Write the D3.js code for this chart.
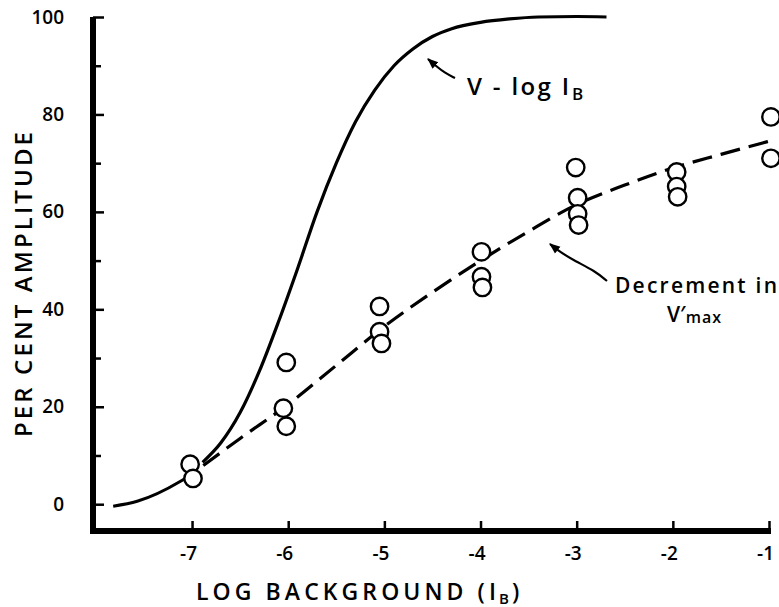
<!DOCTYPE html>
<html><head><meta charset="utf-8">
<script src="https://cdn.jsdelivr.net/npm/d3@7"></script>
<style>body{margin:0;background:#fff} text{font-family:"Open Sans",sans-serif;font-weight:600;fill:#000}</style>
</head><body>
<svg id="c" width="779" height="607"></svg>
<script>
const xTicks = [-7,-6,-5,-4,-3,-2,-1];
const xTickLabels = ["-7","-6","-5","-4","-3","-2","-1"];
const yMajor = [0,20,40,60,80,100];
const yMinor = [10,30,50,70,90];
const obsX = [-7.02,-6.99,-6.02,-6.05,-6.02,-5.05,-5.05,-5.03,-3.99,-3.99,-3.98,-3.01,-2.99,-2.99,-2.98,-1.96,-1.96,-1.95,-0.98,-0.98];
const obsY = [8.2,5.3,29.1,19.7,16.0,40.6,35.4,33.0,51.8,46.7,44.5,69.1,62.9,59.6,57.3,68.2,65.2,63.1,79.5,71.0];
const vCurveX = [-6.89,-6.7,-6.5,-6.3,-6.1,-5.9,-5.7,-5.5,-5.3,-5.1,-4.9,-4.7,-4.5,-4.3,-4.0,-3.7,-3.4,-3.0,-2.69];
const vCurveY = [8.6,12.6,18.8,27.3,37.5,48.5,60,70,78.5,85,90,93.5,96,97.6,98.9,99.6,100,100.1,100];
const decX = [-7.82,-7.57,-7.12,-7.0,-6.5,-6.0,-5.5,-5.0,-4.5,-4.0,-3.5,-3.0,-2.5,-2.0,-1.5,-1.0];
const decY = [-0.4,0.6,4.7,6.2,13.5,20.5,28.5,36.5,43.5,50,56,61.5,65.5,69,71.8,74.5];

const svg = d3.select("#c");
const x = d3.scaleLinear().domain([-8.03,-1]).range([93,769]);
const y = d3.scaleLinear().domain([-5.5,100]).range([531,17]);

// axes lines
svg.append("line").attr("x1",x(-8.03)).attr("x2",x(-8.03)).attr("y1",y(100)).attr("y2",y(-5.5)+3)
  .attr("stroke","#000").attr("stroke-width",6);
svg.append("line").attr("x1",x(-8.03)-3).attr("x2",x(-1)+2).attr("y1",y(-5.5)).attr("y2",y(-5.5))
  .attr("stroke","#000").attr("stroke-width",6);

// x axis
const gx = svg.append("g").attr("transform",`translate(0,${y(-5.5)})`)
  .call(d3.axisBottom(x).tickValues(xTicks).tickFormat((d,i)=>xTickLabels[i]).tickSizeInner(-10).tickSizeOuter(0).tickPadding(16));
gx.select(".domain").remove();
gx.selectAll(".tick line").attr("stroke","#000").attr("stroke-width",2.5);
gx.selectAll(".tick text").attr("font-size",19).attr("font-family","Open Sans").attr("font-weight",700).attr("dx",-4);

// y axis major
const gy = svg.append("g").attr("transform",`translate(${x(-8.03)},0)`)
  .call(d3.axisLeft(y).tickValues(yMajor).tickSizeInner(-11).tickSizeOuter(0).tickPadding(29));
gy.select(".domain").remove();
gy.selectAll(".tick line").attr("stroke","#000").attr("stroke-width",2.5);
gy.selectAll(".tick text").attr("font-size",19).attr("font-family","Open Sans").attr("font-weight",700);
const gy2 = svg.append("g").attr("transform",`translate(${x(-8.03)},0)`)
  .call(d3.axisLeft(y).tickValues(yMinor).tickFormat("").tickSizeInner(-8).tickSizeOuter(0));
gy2.select(".domain").remove();
gy2.selectAll(".tick line").attr("stroke","#000").attr("stroke-width",2.5);

// curves
const line = d3.line().x(d=>x(d[0])).y(d=>y(d[1])).curve(d3.curveMonotoneX);
const vPts = vCurveX.map((v,i)=>[v,vCurveY[i]]);
svg.append("path").attr("d",line(vPts)).attr("fill","none").attr("stroke","#000").attr("stroke-width",3.2);
const decPts = decX.map((v,i)=>[v,decY[i]]);
svg.append("path").attr("d",line(decPts.filter(d=>d[0]<=-7.0))).attr("fill","none").attr("stroke","#000").attr("stroke-width",3);
svg.append("path").attr("d",line(decPts.filter(d=>d[0]>=-7.0))).attr("fill","none").attr("stroke","#000")
  .attr("stroke-width",3.2).attr("stroke-dasharray","20,9").attr("stroke-dashoffset",-14);

// points
svg.selectAll("circle.pt").data(obsX.map((v,i)=>[v,obsY[i]])).enter().append("circle")
  .attr("class","pt").attr("cx",d=>x(d[0])).attr("cy",d=>y(d[1])).attr("r",8.7)
  .attr("fill","#fff").attr("stroke","#000").attr("stroke-width",2.4);

// arrows
const defs = svg.append("defs");
defs.append("marker").attr("id","ah").attr("viewBox","0 0 10 10").attr("refX",9).attr("refY",5)
  .attr("markerWidth",5).attr("markerHeight",5).attr("orient","auto-start-reverse")
  .append("path").attr("d","M0,1 L10,5 L0,9 Z").attr("fill","#000");
const arrowLine = d3.line().curve(d3.curveBasis);
svg.append("path").attr("d",arrowLine([[455,78],[445,73],[436,66],[428,59]]))
  .attr("fill","none").attr("stroke","#000").attr("stroke-width",2.2).attr("marker-end","url(#ah)");
svg.append("path").attr("d",arrowLine([[607,281],[595,271],[575,261],[560,252],[550,244]]))
  .attr("fill","none").attr("stroke","#000").attr("stroke-width",2.2).attr("marker-end","url(#ah)");

// annotation texts
svg.append("text").attr("x",467).attr("y",95).attr("font-size",24).attr("textLength",102).attr("lengthAdjust","spacing").text("V - log I");
svg.append("text").attr("x",572).attr("y",100).attr("font-size",17).text("B");

svg.append("text").attr("x",615).attr("y",293).attr("font-size",21).attr("textLength",162).attr("lengthAdjust","spacing").text("Decrement in");
const t3 = svg.append("text").attr("x",667).attr("y",322).attr("font-size",21);
t3.append("tspan").text("V′");
t3.append("tspan").attr("font-size",16).attr("dy",1).attr("letter-spacing",1).text("max");

// axis titles
svg.append("text").attr("x",196).attr("y",600).attr("font-size",23).attr("textLength",300).attr("lengthAdjust","spacing").text("LOG BACKGROUND (I");
svg.append("text").attr("x",499).attr("y",604).attr("font-size",15).text("B");
svg.append("text").attr("x",512).attr("y",600).attr("font-size",23).text(")");

svg.append("text").attr("transform",`translate(32,${(132+437)/2}) rotate(-90)`).attr("text-anchor","middle")
  .attr("font-size",24).attr("textLength",305).attr("lengthAdjust","spacing").text("PER CENT AMPLITUDE");
</script>
</body></html>
